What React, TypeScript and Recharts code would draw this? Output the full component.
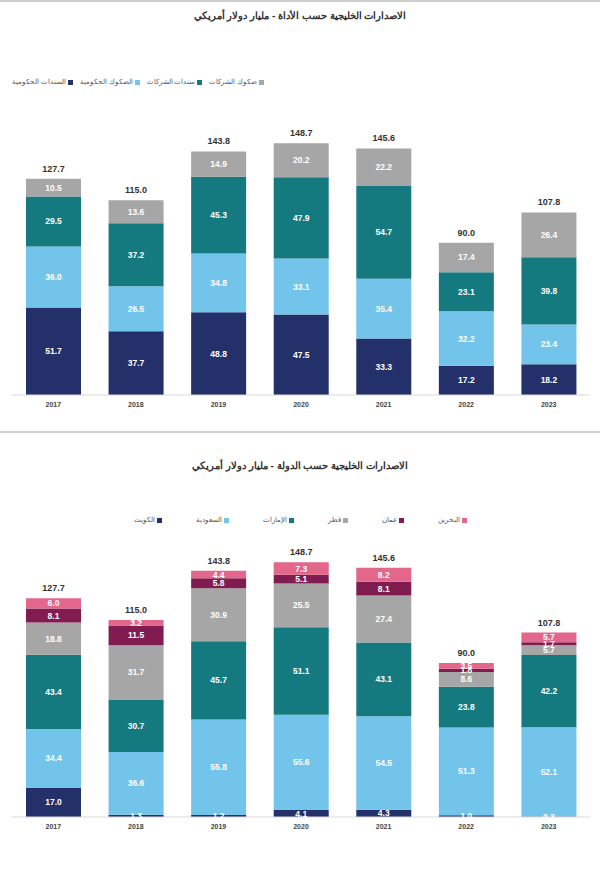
import { BarChart, Bar, XAxis, YAxis, LabelList } from "recharts";

const years = ["2017", "2018", "2019", "2020", "2021", "2022", "2023"];

// issuance by instrument (USD bn)
const govBonds = [51.7, 37.7, 48.8, 47.5, 33.3, 17.2, 18.2];
const govSukuk = [36.0, 26.5, 34.8, 33.1, 35.4, 32.2, 23.4];
const corpBonds = [29.5, 37.2, 45.3, 47.9, 54.7, 23.1, 39.8];
const corpSukuk = [10.5, 13.6, 14.9, 20.2, 22.2, 17.4, 26.4];

// issuance by country (USD bn)
const kuwait = [17.0, 1.3, 1.2, 4.1, 4.3, 1.0, 0.3];
const saudi = [34.4, 36.6, 55.8, 55.6, 54.5, 51.3, 52.1];
const uae = [43.4, 30.7, 45.7, 51.1, 43.1, 23.8, 42.2];
const qatar = [18.8, 31.7, 30.9, 25.5, 27.4, 8.6, 5.7];
const oman = [8.1, 11.5, 5.8, 5.1, 8.1, 1.8, 1.7];
const bahrain = [6.0, 3.2, 4.4, 7.3, 8.2, 3.5, 5.7];

const totals = [127.7, 115.0, 143.8, 148.7, 145.6, 90.0, 107.8];

const NAVY = "#24306a";
const SKY = "#72c4ea";
const TEAL = "#147a7f";
const GREY = "#a6a6a6";
const MAROON = "#801c50";
const PINK = "#e3668b";

const FONT = "'Liberation Sans', Arial, sans-serif";

type Series = { key: string; name: string; color: string; values: number[] };

const instrumentSeries: Series[] = [
  { key: "govBonds", name: "السندات الحكومية", color: NAVY, values: govBonds },
  { key: "govSukuk", name: "الصكوك الحكومية", color: SKY, values: govSukuk },
  { key: "corpBonds", name: "سندات الشركات", color: TEAL, values: corpBonds },
  { key: "corpSukuk", name: "صكوك الشركات", color: GREY, values: corpSukuk },
];

const countrySeries: Series[] = [
  { key: "kuwait", name: "الكويت", color: NAVY, values: kuwait },
  { key: "saudi", name: "السعودية", color: SKY, values: saudi },
  { key: "uae", name: "الإمارات", color: TEAL, values: uae },
  { key: "qatar", name: "قطر", color: GREY, values: qatar },
  { key: "oman", name: "عمان", color: MAROON, values: oman },
  { key: "bahrain", name: "البحرين", color: PINK, values: bahrain },
];

const buildRows = (series: Series[]) =>
  years.map((year, i) => {
    const row: Record<string, string | number> = { year, total: totals[i] };
    series.forEach((s) => (row[s.key] = s.values[i]));
    return row;
  });

const fmt = (v: any) => Number(v).toFixed(1);

const LegendRow = ({ series, style }: { series: Series[]; style: React.CSSProperties }) => (
  <div style={{ position: "absolute", display: "flex", alignItems: "center", fontFamily: FONT, fontSize: 6.5, color: "#555", ...style }}>
    {series.map((s) => (
      <div key={s.key} style={{ display: "flex", alignItems: "center", direction: "rtl" }}>
        <span style={{ width: 5, height: 5, background: s.color, display: "inline-block", marginLeft: 2 }} />
        <span>{s.name}</span>
      </div>
    ))}
  </div>
);

const StackedPanel = ({ series, top, marginTop, plotHeight }: { series: Series[]; top: number; marginTop: number; plotHeight: number }) => {
  const rows = buildRows(series);
  return (
    <div style={{ position: "absolute", left: 0, top }}>
      <BarChart
        width={600}
        height={marginTop + plotHeight + 35}
        data={rows}
        margin={{ top: marginTop, right: 10, left: 12, bottom: 5 }}
        barSize={55}
      >
        <XAxis
          dataKey="year"
          height={30}
          axisLine={{ stroke: "#d9d9d9" }}
          tickLine={false}
          tick={{ fontSize: 7, fontWeight: 700, fill: "#444", fontFamily: FONT }}
          tickMargin={1}
        />
        <YAxis hide domain={[0, 160]} />
        {series.map((s, idx) => (
          <Bar key={s.key} dataKey={s.key} name={s.name} stackId="a" fill={s.color} isAnimationActive={false}>
            <LabelList
              dataKey={s.key}
              position="center"
              formatter={fmt}
              style={{ fill: "#fff", fontSize: 8.5, fontWeight: 700, fontFamily: FONT }}
            />
            {idx === series.length - 1 && (
              <LabelList
                dataKey="total"
                position="top"
                offset={7}
                formatter={fmt}
                style={{ fill: "#333", fontSize: 9, fontWeight: 700, fontFamily: FONT }}
              />
            )}
          </Bar>
        ))}
      </BarChart>
    </div>
  );
};

const titleStyle: React.CSSProperties = {
  position: "absolute",
  left: 0,
  width: 600,
  textAlign: "center",
  fontFamily: FONT,
  fontSize: 10,
  fontWeight: 700,
  color: "#333",
};

export default function App() {
  return (
    <div style={{ position: "absolute", left: 0, top: 0, width: 600, height: 882, background: "#fff", overflow: "hidden" }}>
      <div style={{ position: "absolute", left: 0, top: 0, width: 600, height: 2, background: "#cfcfcf" }} />
      <div style={{ ...titleStyle, top: 10 }}>الاصدارات الخليجية حسب الأداة - مليار دولار أمريكي</div>
      <LegendRow series={instrumentSeries} style={{ left: 12, top: 78, gap: 7 }} />
      <StackedPanel series={instrumentSeries} top={0} marginTop={124} plotHeight={271} />

      <div style={{ position: "absolute", left: 0, top: 431, width: 600, height: 2, background: "#cfcfcf" }} />
      <div style={{ ...titleStyle, top: 460 }}>الاصدارات الخليجية حسب الدولة - مليار دولار أمريكي</div>
      <LegendRow series={countrySeries} style={{ left: 0, width: 600, justifyContent: "center", top: 516, gap: 34 }} />
      <StackedPanel series={countrySeries} top={434} marginTop={109} plotHeight={274} />
    </div>
  );
}
